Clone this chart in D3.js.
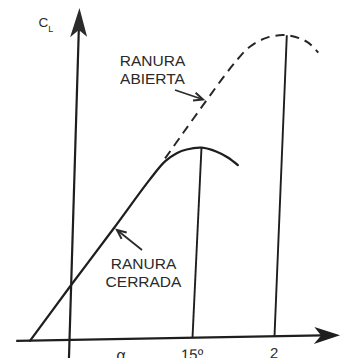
<!DOCTYPE html>
<html>
<head>
<meta charset="utf-8">
<script src="https://cdn.jsdelivr.net/npm/d3@7/dist/d3.min.js"></script>
<style>
  html, body { margin: 0; padding: 0; background: #fff; }
  svg { display: block; }
  text { font-family: "Liberation Sans", Arial, Helvetica, sans-serif; fill: #2a2a2a; }
</style>
</head>
<body>
<svg id="chart" width="342" height="358"></svg>
<script>
// Lift coefficient vs. angle of attack, slot closed vs. slot open
const alphaClosed = [-4.8, 0, 5, 9.2, 11.0, 12.4, 13.6, 15.4, 17.2, 18.6, 19.9];
const clClosed    = [0, 0.55, 1.11, 1.59, 1.77, 1.85, 1.885, 1.90, 1.86, 1.80, 1.72];

const alphaOpen = [11.0, 13.1, 15.9, 17.8, 19.4, 20.9, 23.0, 25.4, 27.9, 29.3];
const clOpen    = [1.80, 2.05, 2.38, 2.60, 2.77, 2.90, 2.99, 3.01, 2.94, 2.83];

// stall points: angle of max lift, the max lift, and the axis tick below each
const peakAlpha  = [15.4, 25.4];
const peakCl     = [1.90, 3.01];
const tickAlpha  = [15, 25];
const tickLabels = ["15º", "2"];

const xAxisExtent = [-6.5, 33];   // alpha
const yAxisExtent = [-0.18, 3.32]; // C_L

const ink = "#1e1e1e";
const svg = d3.select("#chart");

const x = d3.scaleLinear().domain([0, 10]).range([0, 82]);
const y = d3.scaleLinear().domain([0, 1]).range([0, -100]);

// plot frame, origin at the axes crossing, with the slight lean of the hand-drawn axes
const g = svg.append("g")
  .attr("transform", "matrix(1,-0.018,-0.030,1,69.5,340)");

// axes
g.append("line")
  .attr("x1", x(xAxisExtent[0])).attr("y1", 0)
  .attr("x2", x(xAxisExtent[1]) - 18).attr("y2", 0)
  .attr("stroke", ink).attr("stroke-width", 2.2);
g.append("line")
  .attr("x1", 0).attr("y1", y(yAxisExtent[0]))
  .attr("x2", 0).attr("y2", y(yAxisExtent[1]) + 22)
  .attr("stroke", ink).attr("stroke-width", 2.2);

// arrowheads
const xt = x(xAxisExtent[1]);
g.append("path")
  .attr("d", `M${xt},0 L${xt - 26},-8.5 L${xt - 19},0 L${xt - 26},8.5 Z`)
  .attr("fill", ink);
const yt = y(yAxisExtent[1]);
g.append("path")
  .attr("d", `M0,${yt} L-8.5,${yt + 29} L0,${yt + 22} L8.5,${yt + 29} Z`)
  .attr("fill", "#2b2b2b");

// stall verticals
g.selectAll("line.stall")
  .data(peakAlpha.map((a, i) => ({ a, c: peakCl[i], t: tickAlpha[i] })))
  .join("line")
  .attr("class", "stall")
  .attr("x1", d => x(d.t)).attr("y1", 0)
  .attr("x2", d => x(d.a)).attr("y2", d => y(d.c))
  .attr("stroke", ink).attr("stroke-width", 1.9);

const line = d3.line()
  .x(d => x(d[0]))
  .y(d => y(d[1]))
  .curve(d3.curveCatmullRom.alpha(0.5));

// slot open (dashed)
g.append("path")
  .attr("d", line(alphaOpen.map((a, i) => [a, clOpen[i]])))
  .attr("fill", "none")
  .attr("stroke", "#262626")
  .attr("stroke-width", 2)
  .attr("stroke-dasharray", "9,6");

// slot closed (solid)
g.append("path")
  .attr("d", line(alphaClosed.map((a, i) => [a, clClosed[i]])))
  .attr("fill", "none")
  .attr("stroke", ink)
  .attr("stroke-width", 2.3)
  .attr("stroke-linecap", "round");

// tick labels and axis title
g.selectAll("text.tick")
  .data(tickAlpha)
  .join("text")
  .attr("class", "tick")
  .attr("x", d => x(d))
  .attr("y", 22)
  .attr("text-anchor", "middle")
  .attr("font-size", 15)
  .text((d, i) => tickLabels[i]);

g.append("text")
  .attr("x", 52).attr("y", 21.5)
  .attr("text-anchor", "middle")
  .attr("font-size", 16)
  .text("α");

// C_L axis title
const cl = svg.append("text").attr("x", 38.5).attr("y", 27).attr("font-size", 13.5);
cl.append("tspan").text("C");
cl.append("tspan").attr("font-size", 9).attr("dy", 4.5).text("L");

// annotations
function label(lines, cx, y0) {
  svg.append("text")
    .attr("text-anchor", "middle")
    .attr("font-size", 15.5)
    .selectAll("tspan")
    .data(lines)
    .join("tspan")
    .attr("x", cx)
    .attr("y", (d, i) => y0 + i * 18)
    .text(d => d);
}
label(["RANURA", "ABIERTA"], 152.5, 66);
label(["RANURA", "CERRADA"], 143.5, 269);

function pointer(x1, y1, x2, y2) {
  const ang = Math.atan2(y2 - y1, x2 - x1);
  const L = 10, w = 0.42;
  svg.append("line")
    .attr("x1", x1).attr("y1", y1).attr("x2", x2).attr("y2", y2)
    .attr("stroke", "#2a2a2a").attr("stroke-width", 1.8);
  const p1 = [x2 - L * Math.cos(ang - w), y2 - L * Math.sin(ang - w)];
  const p2 = [x2 - L * Math.cos(ang + w), y2 - L * Math.sin(ang + w)];
  svg.append("path")
    .attr("d", `M${p1[0]},${p1[1]} L${x2},${y2} L${p2[0]},${p2[1]}`)
    .attr("fill", "none")
    .attr("stroke", "#2a2a2a").attr("stroke-width", 2)
    .attr("stroke-linejoin", "miter");
}
pointer(175, 90, 203, 99.5);
pointer(142, 250, 117, 230);
</script>
</body>
</html>
